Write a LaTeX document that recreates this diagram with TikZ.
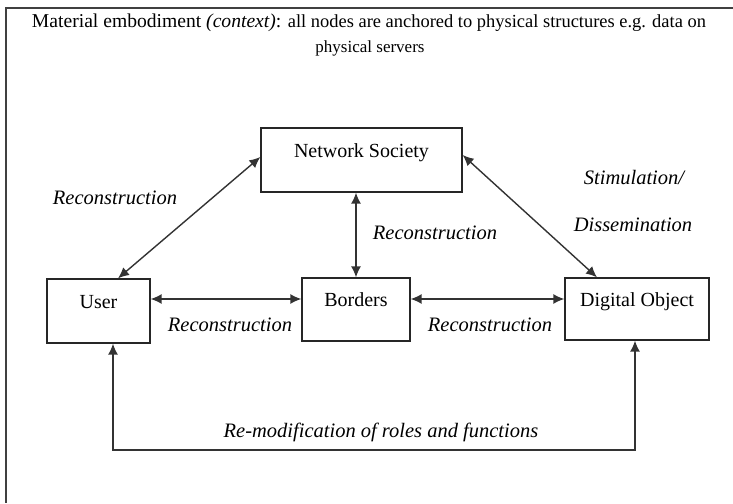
\documentclass[tikz,border=0pt]{standalone}
\usepackage{fontspec}
\setmainfont{Liberation Serif}
\usetikzlibrary{arrows.meta,calc}
\begin{document}
\begin{tikzpicture}[x=1pt,y=-1pt,
  box/.style={draw=black!85, line width=1.3pt, rectangle, inner sep=0pt,
    font=\fontsize{20}{24}\selectfont, text height=13pt, text depth=19pt},
  conn/.style={draw=black!80, line width=1.4pt,
    {Latex[length=11pt,width=10pt]}-{Latex[length=11pt,width=10pt]}},
  lbl/.style={font=\fontsize{20.5}{24}\selectfont\itshape, inner sep=0pt},
  ttl/.style={inner sep=0pt, font=\fontsize{17}{20}\selectfont}]
\useasboundingbox (0,0) rectangle (733,503);
\draw[black!75, line width=1.4pt] (733,8) -- (6,8) -- (6,503);

\node[ttl] (t1) at (369,23) {\resizebox{674pt}{!}{Material embodiment \textit{(context)}: {\fontsize{16}{20}\selectfont all nodes are anchored to physical structures e.g. data on}}};
\node[ttl] (t2) at (370,48) {\fontsize{17}{20}\selectfont physical servers};

\node[box, minimum width=201pt, minimum height=64pt] (ns) at (361.5,160) {Network Society};
\node[box, minimum width=103pt, minimum height=64pt] (user) at (98.5,311) {User};
\node[box, minimum width=108pt, minimum height=63pt] (borders) at (356,309.5) {Borders};
\node[box, minimum width=144pt, minimum height=62pt] (digital) at (637,309) {Digital Object};

\draw[conn] ([yshift=12pt]user.east) -- ([yshift=10.5pt]borders.west);
\draw[conn] ([yshift=10.5pt]borders.east) -- ([yshift=10pt]digital.west);
\draw[conn] (ns.south -| borders.north) -- (borders.north);
\draw[conn] ([yshift=3pt]ns.west) -- ([xshift=19.5pt]user.north);
\draw[conn] ([yshift=5pt]ns.east) -- ([xshift=-40pt]digital.north);
\coordinate (bl) at (113,450);
\coordinate (br) at (635,450);
\draw[conn] ([xshift=14.5pt]user.south) -- (bl) -- (br) -- (br |- digital.south);

\node[lbl] (l1) at (115,198) {Reconstruction};
\node[lbl] (l2) at (435,233) {Reconstruction};
\node[lbl] (l3) at (230,325) {Reconstruction};
\node[lbl] (l4) at (490,325) {Reconstruction};
\node[lbl] (l5) at (634,178) {Stimulation/};
\node[lbl] (l6) at (633,225) {Dissemination};
\node[lbl] (l7) at (381,432) {Re-modification of roles and functions};
\end{tikzpicture}
\end{document}
